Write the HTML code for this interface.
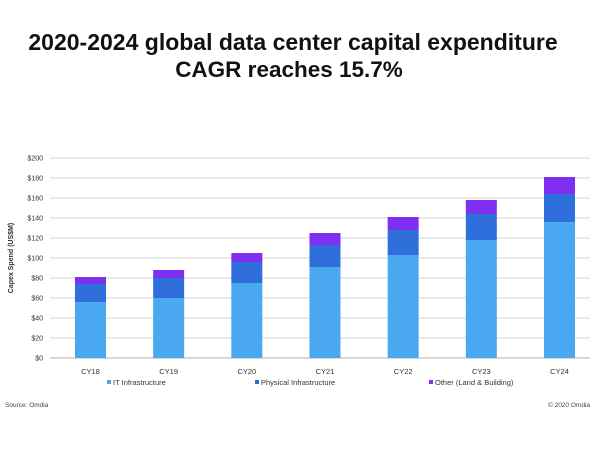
<!DOCTYPE html>
<html><head><meta charset="utf-8"><style>
body{margin:0;background:#fff;}
svg{display:block;font-family:"Liberation Sans",Arial,sans-serif;}
</style></head><body>
<svg width="600" height="450" viewBox="0 0 600 450">
<text x="293" y="50" text-anchor="middle" font-size="23" font-weight="bold" fill="#111">2020-2024 global data center capital expenditure</text>
<text x="289" y="77" text-anchor="middle" font-size="22.5" font-weight="bold" fill="#111">CAGR reaches 15.7%</text>
<g id="grid"></g>
<g id="yticks"></g>
<g id="bars"></g>
<g id="xlabels"></g>
<text transform="translate(13,258) rotate(-90)" text-anchor="middle" font-size="7" font-weight="bold" fill="#333">Capex Spend (US$M)</text>
<g>
<g><rect x="107" y="380" width="4" height="4" fill="#4aa8f0"/><text x="113" y="385" font-size="7.5" fill="#333">IT Infrastructure</text></g>
<g><rect x="255" y="380" width="4" height="4" fill="#2f6fdc"/><text x="261" y="385" font-size="7.5" fill="#333">Physical Infrastructure</text></g>
<g><rect x="429" y="380" width="4" height="4" fill="#7e2ff0"/><text x="435" y="385" font-size="7.5" fill="#333">Other (Land &amp; Building)</text></g>
</g>
<text x="5" y="407" font-size="6.5" fill="#444">Source: Omdia</text>
<text x="590" y="407" text-anchor="end" font-size="6.5" fill="#444">© 2020 Omdia</text>
</svg>
<script>
const categories=["CY18","CY19","CY20","CY21","CY22","CY23","CY24"];
const itInfra=[56,60,75,91,103,118,136];
const physInfra=[18,20,21,22,25,26,28];
const otherLand=[7,8,9,12,13,14,17];
const yTicks=[0,20,40,60,80,100,120,140,160,180,200];
const NS="http://www.w3.org/2000/svg";
const x0=51.4,x1=590,yBase=358,yTop=158,yMax=200;
const band=78.17;
const xc=i=>x0+band*(i+0.5);
const y=v=>yBase-(v/yMax)*(yBase-yTop);
const grid=document.getElementById('grid'),yt=document.getElementById('yticks');
yTicks.forEach(t=>{
 const l=document.createElementNS(NS,'line');
 
 
 l.setAttribute('x1',50);l.setAttribute('x2',x1);l.setAttribute('y1',y(t));l.setAttribute('y2',y(t));
 l.setAttribute('stroke',t===0?'#999':'#c8c8c8');l.setAttribute('stroke-width','0.8');
 grid.appendChild(l);
 const tx=document.createElementNS(NS,'text');
 
 
 tx.setAttribute('x',43);tx.setAttribute('y',y(t)+2.5);tx.setAttribute('text-anchor','end');
 tx.setAttribute('font-size','7');tx.setAttribute('fill','#333');tx.textContent='$'+t;
 yt.appendChild(tx);
});
const bars=document.getElementById('bars'),xl=document.getElementById('xlabels');
const series=[[itInfra,'#4aa8f0','it'],[physInfra,'#2f6fdc','physical'],[otherLand,'#7e2ff0','other']];
const bw=31;
categories.forEach((c,i)=>{
 let acc=0;
 series.forEach(s=>{
  const v=s[0][i];
  const r=document.createElementNS(NS,'rect');
  
  
  r.setAttribute('x',xc(i)-bw/2);r.setAttribute('width',bw);
  r.setAttribute('y',y(acc+v));r.setAttribute('height',y(acc)-y(acc+v));
  r.setAttribute('fill',s[1]);
  bars.appendChild(r);acc+=v;
 });
 const t=document.createElementNS(NS,'text');
 
 
 t.setAttribute('x',xc(i));t.setAttribute('y',374);t.setAttribute('text-anchor','middle');
 t.setAttribute('font-size','7.5');t.setAttribute('fill','#333');t.textContent=c;
 xl.appendChild(t);
});
</script>
</body></html>
